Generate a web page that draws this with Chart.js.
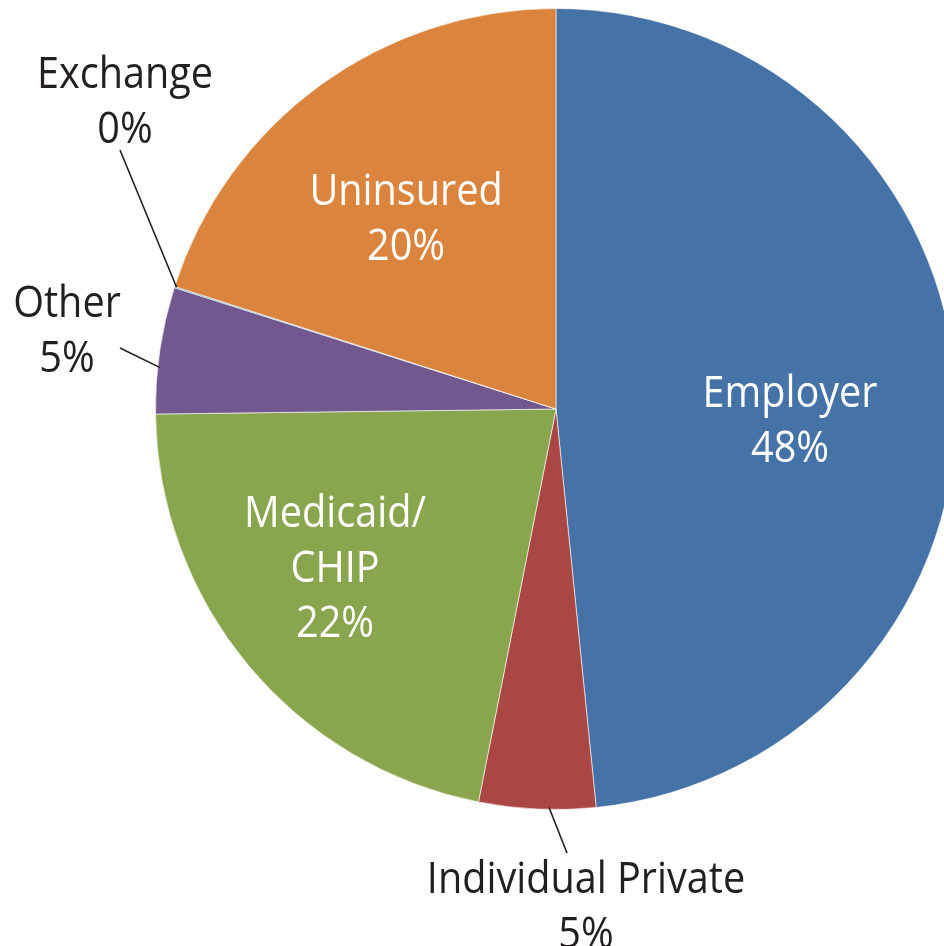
<!DOCTYPE html>
<html>
<head>
<meta charset="utf-8">
<script src="https://cdn.jsdelivr.net/npm/chart.js@4/dist/chart.umd.min.js"></script>
<style>
  html, body { margin: 0; padding: 0; background: #ffffff; overflow: hidden; width: 944px; height: 946px; }
  #wrap { position: absolute; left: 0; top: 0; width: 1112px; height: 946px; }
</style>
</head>
<body>
<div id="wrap"><canvas id="c" width="1112" height="946"></canvas></div>
<script>
// ---- data ----
const categories = ['Employer', 'Individual Private', 'Medicaid/CHIP', 'Other', 'Exchange', 'Uninsured'];
const shares = [48.4, 4.7, 21.7, 5.1, 0.05, 20.05];
const labelLines = [
  ['Employer', '48%'],
  ['Individual Private', '5%'],
  ['Medicaid/', 'CHIP', '22%'],
  ['Other', '5%'],
  ['Exchange', '0%'],
  ['Uninsured', '20%']
];
const sliceColors = ['#4572A7', '#AA4643', '#89A54E', '#71588F', '#4198AF', '#DB843D'];

// ---- label layout (offsets from pie centre, first baseline) ----
const labelLayout = [
  { dx: 234, dy: -2, inside: true },
  { dx: 30, dy: 484, inside: false, lineFromAngle: 181, lineTo: [11, 444] },
  { dx: -221, dy: 118, inside: true },
  { dx: -489, dy: -92, inside: false, lineFromAngle: 276, lineTo: [-436, -61] },
  { dx: -431, dy: -321, inside: false, lineFromAngle: 287.8, lineTo: [-436, -259] },
  { dx: -150, dy: -204, inside: true }
];
const LINE_H = 55;
const FONT = '44px "Open Sans", "DejaVu Sans", sans-serif';
const SCALE_X = 0.9;

const labelPlugin = {
  id: 'pieLabels',
  afterDatasetsDraw(chart) {
    const ctx = chart.ctx;
    const meta = chart.getDatasetMeta(0);
    const arc0 = meta.data[0];
    const cx = arc0.x, cy = arc0.y, R = arc0.outerRadius;
    ctx.save();
    ctx.font = FONT;
    ctx.textAlign = 'center';
    ctx.textBaseline = 'alphabetic';
    labelLayout.forEach((L, i) => {
      if (L.lineFromAngle !== undefined) {
        const a = (L.lineFromAngle - 90) * Math.PI / 180;
        ctx.beginPath();
        ctx.moveTo(cx + Math.cos(a) * (R - 2), cy + Math.sin(a) * (R - 2));
        ctx.lineTo(cx + L.lineTo[0], cy + L.lineTo[1]);
        ctx.strokeStyle = '#231f20';
        ctx.lineWidth = 1.6;
        ctx.stroke();
      }
      ctx.fillStyle = L.inside ? '#ffffff' : '#231f20';
      labelLines[i].forEach((t, k) => {
        ctx.save();
        ctx.translate(cx + L.dx, cy + L.dy + k * LINE_H);
        ctx.scale(SCALE_X, 1);
        ctx.fillText(t, 0, 0);
        ctx.restore();
      });
    });
    ctx.restore();
  }
};

new Chart(document.getElementById('c'), {
  type: 'pie',
  data: {
    labels: categories,
    datasets: [{
      data: shares,
      backgroundColor: sliceColors,
      borderColor: 'rgba(255,255,255,0.6)',
      borderWidth: 1
    }]
  },
  options: {
    responsive: false,
    animation: false,
    layout: { padding: { top: 8, bottom: 136, left: 0, right: 0 } },
    plugins: {
      legend: { display: false },
      tooltip: { enabled: false }
    }
  },
  plugins: [labelPlugin]
});
</script>
</body>
</html>
